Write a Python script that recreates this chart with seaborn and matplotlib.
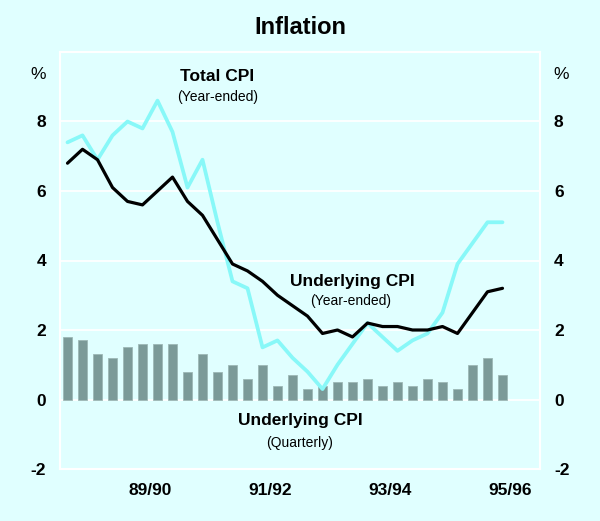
import matplotlib
matplotlib.use("Agg")
import matplotlib.pyplot as plt
import numpy as np
import pandas as pd
import seaborn as sns

# quarterly data, Sep qtr 1988 .. Dec qtr 1995
quarters = np.arange(30)
total_cpi_ye = [7.4, 7.6, 6.9, 7.6, 8.0, 7.8, 8.6, 7.7, 6.1, 6.9,
                5.1, 3.4, 3.2, 1.5, 1.7, 1.2, 0.8, 0.3, 1.0, 1.6,
                2.2, 1.8, 1.4, 1.7, 1.9, 2.5, 3.9, 4.5, 5.1, 5.1]
underlying_ye = [6.8, 7.2, 6.9, 6.1, 5.7, 5.6, 6.0, 6.4, 5.7, 5.3,
                 4.6, 3.9, 3.7, 3.4, 3.0, 2.7, 2.4, 1.9, 2.0, 1.8,
                 2.2, 2.1, 2.1, 2.0, 2.0, 2.1, 1.9, 2.5, 3.1, 3.2]
underlying_qtr = [1.8, 1.7, 1.3, 1.2, 1.5, 1.6, 1.6, 1.6, 0.8, 1.3,
                  0.8, 1.0, 0.6, 1.0, 0.4, 0.7, 0.3, 0.4, 0.5, 0.5,
                  0.6, 0.4, 0.5, 0.4, 0.6, 0.5, 0.3, 1.0, 1.2, 0.7]
year_labels = ["89/90", "91/92", "93/94", "95/96"]
year_label_pos = [5.5, 13.5, 21.5, 29.5]
y_ticks = [-2, 0, 2, 4, 6, 8]

df = pd.DataFrame({
    "q": quarters,
    "total": total_cpi_ye,
    "under": underlying_ye,
    "qtr": underlying_qtr,
})

BG = "#E0FFFF"
sns.set_style("white", {"axes.facecolor": BG, "figure.facecolor": BG,
                        "text.color": "black", "xtick.color": "black",
                        "ytick.color": "black"})
plt.rcParams["font.family"] = ["Liberation Sans", "DejaVu Sans"]

fig = plt.figure(figsize=(6, 5.21), dpi=100)
ax = fig.add_axes([0.1, 0.0998, 0.8, 0.8004])

for y in [0, 2, 4, 6, 8]:
    ax.axhline(y, color="white", lw=1.3, zorder=0)

sns.barplot(data=df, x="q", y="qtr", native_scale=True, width=0.63,
            color="#7B9A98", saturation=1, edgecolor="#9DB8B6", linewidth=0.6,
            ax=ax, zorder=2)
sns.lineplot(data=df, x="q", y="total", color="#88F8F8", lw=2.7, ax=ax, zorder=3)
sns.lineplot(data=df, x="q", y="under", color="black", lw=2.3, ax=ax, zorder=4)

ax.set_xlim(-0.5, 31.5)
ax.set_ylim(-2, 10)
ax.set_xlabel("")
ax.set_ylabel("")

for s in ax.spines.values():
    s.set_color("white")
    s.set_linewidth(1.5)

ax.set_yticks(y_ticks)
ax.set_yticklabels([str(v) for v in y_ticks], fontweight="bold", fontsize=12.5)
ax.tick_params(axis="y", length=0, labelright=True, pad=10, labelcolor="black")
for lab in ax.get_yticklabels():
    lab.set_fontweight("bold")

ax.set_xticks(year_label_pos)
ax.set_xticklabels(year_labels, fontweight="bold", fontsize=12.5)
ax.set_xticks(np.arange(3.5, 31, 4), minor=True)
ax.tick_params(axis="x", which="major", length=0, pad=10, labelcolor="black")
ax.tick_params(axis="x", which="minor", direction="in", length=10,
               width=1.5, color="white")

ax.text(-0.045, 9.35, "%", transform=ax.get_yaxis_transform(), ha="center",
        va="center", fontsize=12.5)
ax.text(1.045, 9.35, "%", transform=ax.get_yaxis_transform(), ha="center",
        va="center", fontsize=12.5)

ax.text(10.0, 9.3, "Total CPI", ha="center", va="center", fontsize=12.5, fontweight="bold")
ax.text(10.0, 8.7, "(Year-ended)", ha="center", va="center", fontsize=10)
ax.text(19.0, 3.4, "Underlying CPI", ha="center", va="center", fontsize=12.5, fontweight="bold")
ax.text(18.9, 2.83, "(Year-ended)", ha="center", va="center", fontsize=10)
ax.text(15.5, -0.6, "Underlying CPI", ha="center", va="center", fontsize=12.5, fontweight="bold")
ax.text(15.5, -1.25, "(Quarterly)", ha="center", va="center", fontsize=10)

fig.text(0.5, 1 - 28 / 521, "Inflation", ha="center", va="center",
         fontsize=17, fontweight="bold")

fig.savefig("out.png", dpi=100, facecolor=BG)
